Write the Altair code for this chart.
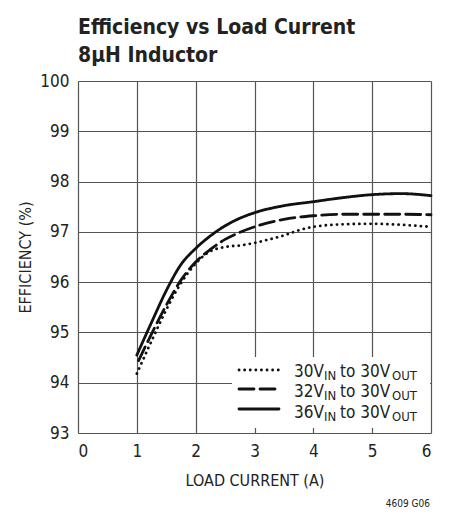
import altair as alt
import pandas as pd

FONT = "DejaVu Sans Condensed, Liberation Sans, sans-serif"

series_names = ["30V to 30V", "32V to 30V", "36V to 30V"]
legend_main = ["30V", "32V", "36V"]

x_30 = [1.0, 1.25, 1.5, 1.75, 2.0, 2.2, 2.5, 2.75, 3.0, 3.25, 3.5, 3.75, 4.0, 4.5, 5.0, 5.5, 6.0]
y_30 = [94.18, 94.83, 95.45, 95.98, 96.37, 96.58, 96.7, 96.73, 96.78, 96.85, 96.93, 97.03, 97.1, 97.15, 97.16, 97.14, 97.1]

x_32 = [1.03, 1.25, 1.5, 1.75, 2.0, 2.25, 2.5, 2.75, 3.0, 3.5, 4.0, 4.5, 5.0, 5.5, 6.0]
y_32 = [94.44, 94.97, 95.54, 96.04, 96.4, 96.65, 96.85, 96.99, 97.1, 97.25, 97.32, 97.35, 97.35, 97.35, 97.34]

x_36 = [1.0, 1.25, 1.5, 1.75, 2.0, 2.25, 2.5, 2.75, 3.0, 3.5, 4.0, 4.5, 5.0, 5.5, 6.0]
y_36 = [94.55, 95.2, 95.83, 96.35, 96.67, 96.92, 97.12, 97.27, 97.38, 97.52, 97.6, 97.68, 97.74, 97.76, 97.72]

x_ticks = [0, 1, 2, 3, 4, 5, 6]
y_ticks = [93, 94, 95, 96, 97, 98, 99, 100]

rows = []
for name, xs, ys in zip(series_names, [x_30, x_32, x_36], [y_30, y_32, y_36]):
    for xv, yv in zip(xs, ys):
        rows.append({"series": name, "x": xv, "y": yv})
df = pd.DataFrame(rows)

W, H = 353, 352
dashes = [[0.1, 5.5], [15, 6], [1, 0]]

xs = alt.Scale(domain=[0, 6], nice=False, zero=False)
ys = alt.Scale(domain=[93, 100], nice=False, zero=False)

base = alt.Chart(df)
lines = []
for name, dash in zip(series_names, dashes):
    lines.append(
        base.transform_filter(alt.datum.series == name)
        .mark_line(color="#111", strokeWidth=2.8, strokeDash=dash,
                   strokeCap="round", interpolate="monotone")
        .encode(
            x=alt.X("x:Q", scale=xs,
                    axis=alt.Axis(values=x_ticks, title="LOAD CURRENT (A)",
                                  grid=True, gridColor="#555", gridWidth=1.2,
                                  domain=False, ticks=False,
                                  labelFont=FONT, labelFontSize=17, labelColor="#222",
                                  labelPadding=10,
                                  titleFont=FONT, titleFontSize=16, titleFontWeight="normal",
                                  titleColor="#222", titleX=W / 2, titleY=52,
                                  titleBaseline="alphabetic")),
            y=alt.Y("y:Q", scale=ys,
                    axis=alt.Axis(values=y_ticks, title="EFFICIENCY (%)",
                                  grid=True, gridColor="#555", gridWidth=1.2,
                                  domain=False, ticks=False,
                                  labelFont=FONT, labelFontSize=17, labelColor="#222",
                                  labelPadding=9,
                                  titleFont=FONT, titleFontSize=16, titleFontWeight="normal",
                                  titleColor="#222", titleX=-53, titleY=H / 2,
                                  titleAngle=-90, titleBaseline="middle")),
        )
    )

one = pd.DataFrame({"k": [0]})
lb = alt.Chart(one)

legend_layers = [
    lb.mark_rect(color="white").encode(
        x=alt.value(154), x2=alt.value(352), y=alt.value(276), y2=alt.value(347))
]
row_y = [296, 316, 337]
sample_y = [289, 308, 328]
for i, (main, dash) in enumerate(zip(legend_main, dashes)):
    legend_layers.append(
        lb.mark_rule(color="#111", strokeWidth=2.8, strokeDash=dash, strokeCap="round")
        .encode(x=alt.value(161), x2=alt.value(201), y=alt.value(sample_y[i]))
    )
    segs = [(main, 216, 17, 0), ("IN", 246, 13, 3), ("to 30V", 262, 17, 0), ("OUT", 314, 13, 3)]
    for txt, xo, fs, dy in segs:
        legend_layers.append(
            lb.mark_text(text=txt, align="left", baseline="alphabetic", font=FONT,
                         fontSize=fs, color="#222")
            .encode(x=alt.value(xo), y=alt.value(row_y[i] + dy))
        )

note = lb.mark_text(text="4609 G06", align="right", baseline="alphabetic", font=FONT,
                    fontSize=10, color="#222").encode(x=alt.value(352), y=alt.value(426))

chart = alt.layer(*lines, *legend_layers, note).properties(
    width=W, height=H,
    padding={"left": 70, "top": 73, "right": 11, "bottom": 76},
    autosize=alt.AutoSizeParams(type="none"),
    title=alt.TitleParams(
        text=["Efficiency vs Load Current", "8μH Inductor"],
        anchor="start", frame="group", font=FONT, fontSize=21, fontWeight="bold",
        color="#222", lineHeight=28, offset=6),
).configure_view(stroke="#222", strokeWidth=2).configure(background="white")

chart.save("out.html", embed_options={"renderer": "svg", "actions": False})
